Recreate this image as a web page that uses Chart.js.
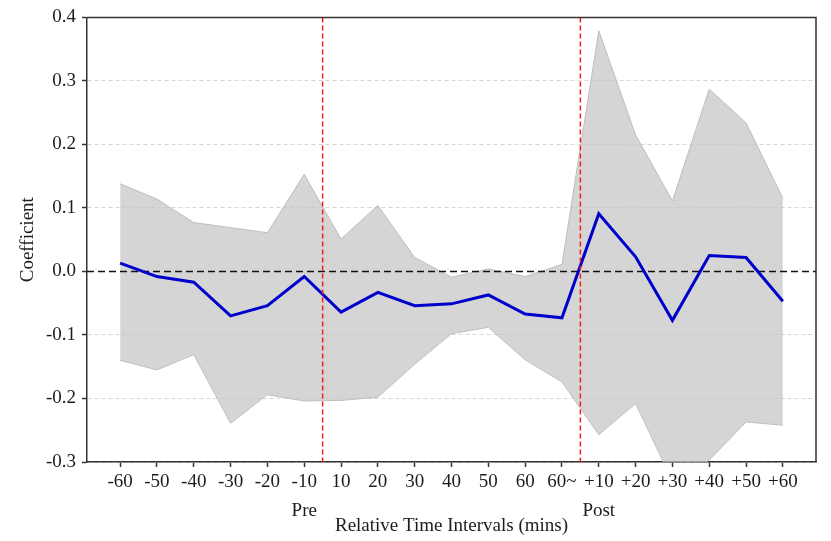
<!DOCTYPE html>
<html>
<head>
<meta charset="utf-8">
<script src="https://cdn.jsdelivr.net/npm/chart.js@4.4.1/dist/chart.umd.min.js"></script>
<style>
   html, body { margin: 0; padding: 0; background: #fff; }
</style>
</head>
<body>
<canvas id="coefChart" width="831" height="541"></canvas>
<script>
const intervals = ["-60", "-50", "-40", "-30", "-20", "-10", "10", "20", "30", "40", "50", "60", "60~", "+10", "+20", "+30", "+40", "+50", "+60"];
const coefficient = [0.013, -0.008, -0.017, -0.070, -0.054, -0.008, -0.064, -0.033, -0.054, -0.051, -0.037, -0.067, -0.073, 0.091, 0.023, -0.077, 0.025, 0.022, -0.047];
const upperBound = [0.138, 0.114, 0.077, 0.069, 0.061, 0.153, 0.051, 0.104, 0.022, -0.009, 0.004, -0.008, 0.011, 0.379, 0.215, 0.111, 0.287, 0.234, 0.115];
const lowerBound = [-0.140, -0.155, -0.131, -0.239, -0.194, -0.204, -0.203, -0.198, -0.146, -0.098, -0.088, -0.139, -0.174, -0.257, -0.208, -0.330, -0.297, -0.237, -0.242];
const yTicks = [-0.3, -0.2, -0.1, 0.0, 0.1, 0.2, 0.3, 0.4];
const dividersAfter = ["-10", "60~"];
const periodAt = ["-10", "+10"];
const periodText = ["Pre", "Post"];

const FONT = "'Liberation Serif', 'DejaVu Serif', serif";
const FONT_SIZE = 19;
const TEXT_COLOR = "#1c1c1c";
const AXIS_COLOR = "#333";

function toPoints(values) {
   return values.map((y, i) => ({ x: i, y }));
}

const guidesPlugin = {
   id: "guides",
   beforeDatasetDraw(chart, args) {
      if (args.index !== 0) return;
      const { ctx, chartArea: a, scales: { y } } = chart;
      const y0 = y.getPixelForValue(0);
      ctx.save();
      ctx.setLineDash([7, 4]);
      ctx.lineWidth = 1.5;
      ctx.strokeStyle = "#111";
      ctx.beginPath();
      ctx.moveTo(a.left, y0);
      ctx.lineTo(a.right, y0);
      ctx.stroke();
      ctx.restore();
   },
   afterDatasetsDraw(chart) {
      const { ctx, chartArea: a, scales: { x } } = chart;
      ctx.save();
      ctx.setLineDash([5, 3]);
      ctx.lineWidth = 1.5;
      ctx.strokeStyle = "#ff1a1a";
      dividersAfter.forEach((label) => {
         const px = x.getPixelForValue(intervals.indexOf(label) + 0.5);
         ctx.beginPath();
         ctx.moveTo(px, a.top);
         ctx.lineTo(px, a.bottom);
         ctx.stroke();
      });
      // top and right frame edges
      ctx.setLineDash([]);
      ctx.strokeStyle = AXIS_COLOR;
      ctx.beginPath();
      ctx.moveTo(a.left, a.top);
      ctx.lineTo(a.right, a.top);
      ctx.lineTo(a.right, a.bottom);
      ctx.stroke();
      ctx.restore();
   },
   afterDraw(chart) {
      const { ctx, scales: { x } } = chart;
      ctx.save();
      ctx.font = `${FONT_SIZE}px ${FONT}`;
      ctx.fillStyle = TEXT_COLOR;
      ctx.textAlign = "center";
      ctx.textBaseline = "middle";
      periodAt.forEach((label, i) => {
         ctx.fillText(periodText[i], x.getPixelForValue(intervals.indexOf(label)), 511);
      });
      ctx.restore();
   }
};

new Chart(document.getElementById("coefChart"), {
   type: "line",
   data: {
      datasets: [
         {
            label: "Coefficient",
            data: toPoints(coefficient),
            borderColor: "#0000cd",
            borderWidth: 3,
            pointRadius: 0,
            tension: 0,
            fill: false
         },
         {
            label: "Upper",
            data: toPoints(upperBound),
            borderColor: "#bdbdbd",
            borderWidth: 1,
            backgroundColor: "rgba(195, 195, 195, 0.7)",
            pointRadius: 0,
            fill: "+1",
            clip: 0
         },
         {
            label: "Lower",
            data: toPoints(lowerBound),
            borderColor: "#bdbdbd",
            borderWidth: 1,
            pointRadius: 0,
            fill: false,
            clip: 0
         }
      ]
   },
   options: {
      responsive: false,
      animation: false,
      layout: { padding: { top: 15, right: 15, left: 0, bottom: 0 } },
      plugins: {
         legend: { display: false },
         tooltip: { enabled: false }
      },
      scales: {
         x: {
            type: "linear",
            min: -0.9,
            max: intervals.length - 0.1,
            afterBuildTicks(scale) {
               scale.ticks = intervals.map((_, i) => ({ value: i }));
            },
            afterFit(scale) {
               scale.height = 79;
            },
            ticks: {
               autoSkip: false,
               maxRotation: 0,
               padding: 4,
               color: TEXT_COLOR,
               font: { family: FONT, size: FONT_SIZE },
               callback(value) {
                  return intervals[value];
               }
            },
            grid: {
               drawOnChartArea: false,
               tickLength: 5,
               tickColor: AXIS_COLOR,
               tickWidth: 1.5
            },
            border: { color: AXIS_COLOR, width: 1.5 },
            title: {
               display: true,
               text: "Relative Time Intervals (mins)",
               color: TEXT_COLOR,
               font: { family: FONT, size: FONT_SIZE },
               padding: { top: 0, bottom: 4 }
            }
         },
         y: {
            min: -0.3,
            max: 0.4,
            afterBuildTicks(scale) {
               scale.ticks = yTicks.map((v) => ({ value: v }));
            },
            afterFit(scale) {
               scale.width = 87;
            },
            ticks: {
               padding: 6,
               color: TEXT_COLOR,
               font: { family: FONT, size: FONT_SIZE },
               callback(value) {
                  return Number(value).toFixed(1);
               }
            },
            grid: {
               color(ctx) {
                  return Math.abs(ctx.tick?.value ?? 1) < 1e-9 ? "rgba(0,0,0,0)" : "#d6d6d6";
               },
               lineWidth: 1,
               tickLength: 5,
               tickColor: AXIS_COLOR,
               tickWidth: 1.5
            },
            border: { color: AXIS_COLOR, width: 1.5, dash: [4, 3] },
            title: {
               display: true,
               text: "Coefficient",
               color: TEXT_COLOR,
               font: { family: FONT, size: FONT_SIZE },
               padding: { top: 17, bottom: 0 }
            }
         }
      }
   },
   plugins: [guidesPlugin]
});
</script>
</body>
</html>
